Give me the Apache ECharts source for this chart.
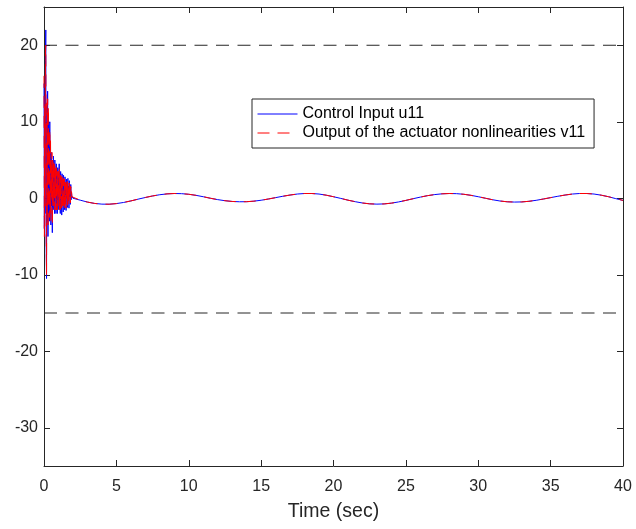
<!DOCTYPE html>
<html>
<head>
<meta charset="utf-8">
<script src="https://cdn.jsdelivr.net/npm/echarts@6/dist/echarts.min.js"></script>
<style>
  html, body { margin: 0; padding: 0; background: #fff; }
  #chart { width: 636px; height: 529px; }
</style>
</head>
<body>
<div id="chart"></div>
<script>
// 瞬态段时间 (0 ~ 1.95 s, 步长 0.025)
const transientTime = []
for (let i = 0; i <= 78; i++) transientTime.push(+(i * 0.025).toFixed(3))

// 瞬态段 控制输入 u11
const transientU = [
  15, -4, 13, -2, 18, 22, -6, -10.5, 12, -3,
  14, -5, 11, -2, 9, -3, 10, -1, 7, -3.5,
  6, -1, 5, -4.5, 4.5, 0, 5.5, -1.5, 4, -2,
  5, 0.5, 3.5, -2, 4.5, -1, 3, -2, 4, 0,
  3, -1.5, 4.5, -1, 2.5, -2, 3.5, 0, 2.5, -2.2,
  3.2, -0.5, 2, -1.8, 3, 0, 2.2, -1.5, 2.8, -0.5,
  1.8, -1.6, 2.5, 0, 2, -1.2, 2.6, -0.3, 1.6, -1.3,
  2.3, 0.2, 1.5, -0.8, 1.8, -0.2, 0.8, 0.3, 0.1
]

// 瞬态段 执行器非线性输出 v11
const transientV = [
  16, -5, 12, -1, 19, 20, -4, -10, 13, -2,
  13, -4, 12, -1, 8, -2.5, 9, -2, 8, -3,
  5, 0, 6, -3.5, 5, -1, 5, -1, 4.5, -1.5,
  4.5, 0, 4, -1.5, 4, -1.5, 3.5, -1.5, 3.5, 0.5,
  3.5, -1, 4, -1.5, 3, -1.5, 3, 0.5, 2.8, -1.8,
  2.8, -1, 2.4, -1.5, 2.6, 0.3, 2.5, -1.2, 2.4, -0.8,
  2.1, -1.3, 2.2, 0.2, 2.2, -1, 2.3, -0.5, 1.8, -1,
  2, 0, 1.6, -0.6, 1.5, 0, 0.9, 0.2, 0.1
]

// 稳态段时间 (2 ~ 40 s, 步长 0.5)
const steadyTime = []
for (let i = 0; i <= 76; i++) steadyTime.push(2 + i * 0.5)

// 稳态段 (两条曲线重合)
const steadyValues = [
  0.0, -0.25, -0.5, -0.68, -0.77, -0.78, -0.7, -0.55, -0.35, -0.12,
  0.1, 0.3, 0.46, 0.57, 0.62, 0.6, 0.52, 0.38, 0.2, 0.0,
  -0.18, -0.32, -0.42, -0.46, -0.45, -0.38, -0.26, -0.1, 0.08, 0.26,
  0.42, 0.55, 0.62, 0.62, 0.55, 0.4, 0.2, -0.02, -0.25, -0.45,
  -0.62, -0.73, -0.77, -0.74, -0.64, -0.48, -0.28, -0.06, 0.15, 0.34,
  0.48, 0.58, 0.62, 0.6, 0.52, 0.38, 0.2, 0.0, -0.2, -0.36,
  -0.46, -0.5, -0.48, -0.4, -0.27, -0.1, 0.08, 0.26, 0.42, 0.55,
  0.62, 0.62, 0.55, 0.4, 0.2, -0.05, -0.28
]

// 饱和界限
const upperLimit = 20
const lowerLimit = -15

// 坐标轴刻度
const xTicks = [0, 5, 10, 15, 20, 25, 30, 35, 40]
const yTicks = [-30, -20, -10, 0, 10, 20]
const yRange = [-35, 25]

const buildSeries = (tVals, yVals) => tVals.map((t, i) => [t, yVals[i]])

const uData = buildSeries(transientTime, transientU).concat(buildSeries(steadyTime, steadyValues))
const vData = buildSeries(transientTime, transientV).concat(buildSeries(steadyTime, steadyValues))

const axisColor = '#262626'
const fontFamily = 'Liberation Sans, Arial, sans-serif'

const tickStyle = { show: true, inside: true, length: 6, lineStyle: { color: axisColor } }

const chart = echarts.init(document.getElementById('chart'))

const option = {
  animation: false,
  grid: { left: 44, right: 13, top: 7, bottom: 63, containLabel: false, outerBoundsMode: 'none' },
  legend: {
    orient: 'vertical',
    left: 252,
    top: 99,
    padding: [7, 9, 7, 5],
    itemWidth: 40,
    itemHeight: 14,
    itemGap: 3,
    itemTextGap: 5,
    borderColor: '#262626',
    borderWidth: 1,
    backgroundColor: '#fff',
    itemStyle: { opacity: 0 },
    lineStyle: { width: 1 },
    textStyle: { fontFamily, fontSize: 16, color: '#000' },
    data: ['Control Input u11', 'Output of the actuator nonlinearities v11']
  },
  xAxis: [
    {
      type: 'value',
      min: xTicks[0],
      max: xTicks[xTicks.length - 1],
      interval: 5,
      name: 'Time (sec)',
      nameLocation: 'middle',
      nameGap: 36,
      nameTextStyle: { fontFamily, fontSize: 19.5, color: axisColor },
      axisLine: { show: true, onZero: false, lineStyle: { color: axisColor, width: 1 } },
      axisTick: tickStyle,
      axisLabel: { fontFamily, fontSize: 16, color: axisColor, margin: 13 },
      splitLine: { show: false }
    },
    {
      type: 'value',
      position: 'top',
      min: xTicks[0],
      max: xTicks[xTicks.length - 1],
      interval: 5,
      axisLine: { show: true, onZero: false, lineStyle: { color: axisColor, width: 1 } },
      axisTick: tickStyle,
      axisLabel: { show: false },
      splitLine: { show: false }
    }
  ],
  yAxis: [
    {
      type: 'value',
      min: yRange[0],
      max: yRange[1],
      axisLine: { show: true, onZero: false, lineStyle: { color: axisColor, width: 1 } },
      axisTick: Object.assign({ customValues: yTicks }, tickStyle),
      axisLabel: { fontFamily, fontSize: 16, color: axisColor, margin: 6, customValues: yTicks },
      splitLine: { show: false }
    },
    {
      type: 'value',
      position: 'right',
      min: yRange[0],
      max: yRange[1],
      axisLine: { show: true, onZero: false, lineStyle: { color: axisColor, width: 1 } },
      axisTick: Object.assign({ customValues: yTicks }, tickStyle),
      axisLabel: { show: false },
      splitLine: { show: false }
    }
  ],
  series: [
    {
      name: 'upper',
      type: 'line',
      data: [[xTicks[0], upperLimit], [xTicks[xTicks.length - 1], upperLimit]],
      symbol: 'none',
      silent: true,
      lineStyle: { color: '#262626', width: 1, type: [13, 8.5] }
    },
    {
      name: 'lower',
      type: 'line',
      data: [[xTicks[0], lowerLimit], [xTicks[xTicks.length - 1], lowerLimit]],
      symbol: 'none',
      silent: true,
      lineStyle: { color: '#262626', width: 1, type: [13, 8.5] }
    },
    {
      name: 'Control Input u11',
      type: 'line',
      data: uData,
      symbol: 'none',
      lineStyle: { color: '#0000ff', width: 1 },
      itemStyle: { color: '#0000ff' }
    },
    {
      name: 'Output of the actuator nonlinearities v11',
      type: 'line',
      data: vData,
      symbol: 'none',
      lineStyle: { color: '#ff0000', width: 1, type: [12, 8] },
      itemStyle: { color: '#ff0000' }
    }
  ]
}

chart.setOption(option)
</script>
</body>
</html>
